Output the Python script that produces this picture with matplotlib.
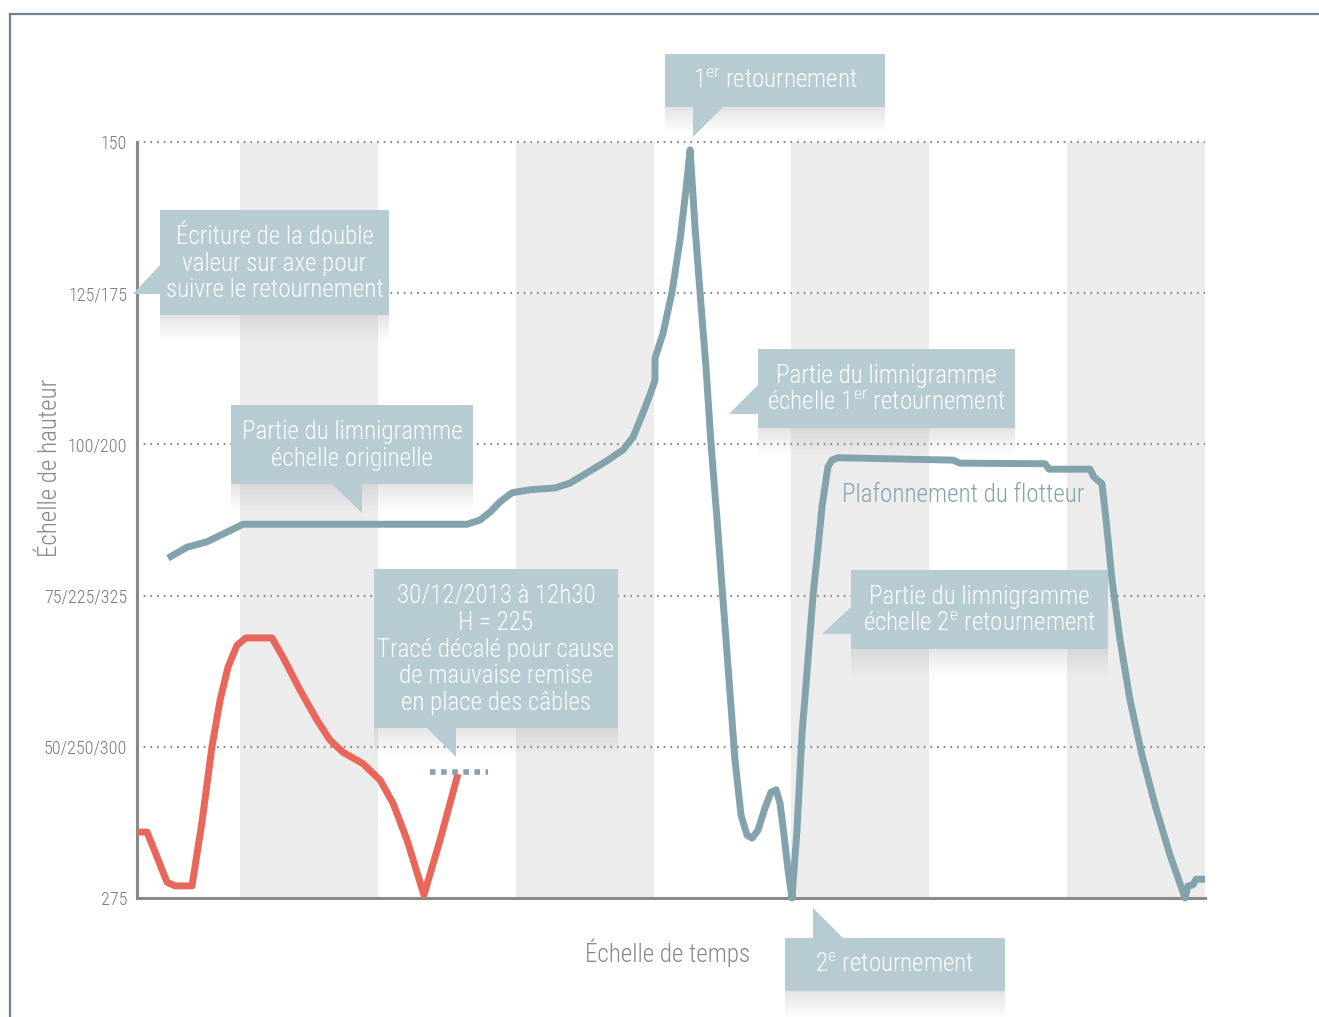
import numpy as np
import matplotlib
matplotlib.use("Agg")
import matplotlib.pyplot as plt
from matplotlib.patches import Rectangle, Polygon

plt.rcParams['font.family'] = ['Roboto Condensed', 'Liberation Sans Narrow', 'DejaVu Sans']
plt.rcParams['font.weight'] = 'light'
plt.rcParams['mathtext.fontset'] = 'custom'
plt.rcParams['mathtext.rm'] = 'Roboto Condensed:light'

y_ticks = [150, 125, 100, 75, 50, 25]
y_labels = ["150", "125/175", "100/200", "75/225/325", "50/250/300", "275"]

band_starts = [0.75, 2.75, 4.75, 6.75]
band_width = 1.0

blue_t = [0.225, 0.363, 0.508, 0.770, 2.396, 2.490, 2.563, 2.635, 2.722, 2.853, 3.034,
          3.143, 3.289, 3.419, 3.528, 3.601, 3.673, 3.724, 3.760, 3.761, 3.819, 3.884,
          3.942, 3.985, 4.015, 4.051, 4.087, 4.131, 4.167, 4.211, 4.254, 4.298, 4.341,
          4.385, 4.428, 4.465, 4.508, 4.559, 4.603, 4.639, 4.668, 4.697, 4.726, 4.755,
          4.791, 4.828, 4.871, 4.908, 4.944, 4.973, 5.016, 5.045, 5.089, 5.924, 5.975,
          6.592, 6.621, 6.918, 6.947, 7.005, 7.035, 7.078, 7.136, 7.209, 7.296, 7.390,
          7.499, 7.608, 7.630, 7.666, 7.688, 7.753]
blue_h = [81.2, 83.0, 83.9, 86.8, 86.8, 87.5, 88.8, 90.5, 92.0, 92.5, 92.8,
          93.6, 95.6, 97.4, 99.1, 101.2, 105.2, 108.2, 110.6, 114.3, 118.4, 125.2,
          133.8, 142.1, 148.7, 135.9, 125.2, 112.6, 100.1, 87.5, 74.3, 61.0, 47.8,
          38.7, 35.4, 34.9, 36.2, 39.9, 42.5, 42.9, 40.7, 35.4, 29.6, 25.0,
          36.2, 52.3, 64.4, 75.1, 82.9, 89.7, 96.3, 97.4, 97.8, 97.4, 96.9,
          96.8, 95.9, 95.9, 94.6, 93.5, 87.5, 77.6, 67.7, 57.7, 48.6, 40.4,
          32.1, 25.0, 27.0, 27.2, 28.1, 28.1]

red_t = [0.007, 0.073, 0.145, 0.218, 0.276, 0.399, 0.472, 0.544, 0.603, 0.661, 0.726,
         0.791, 0.980, 1.060, 1.183, 1.307, 1.401, 1.495, 1.641, 1.764, 1.858, 1.960,
         2.083, 2.200, 2.330]
red_h = [35.9, 35.9, 31.8, 27.6, 27.0, 27.0, 37.6, 50.0, 57.7, 63.2, 66.8,
         68.0, 68.0, 64.8, 59.4, 54.4, 51.1, 49.1, 47.2, 44.5, 40.7, 34.6,
         25.5, 34.6, 45.5]

h225_t = [2.127, 2.548]
h225_h = [45.8, 45.8]

BLUE = "#82a3ac"
RED = "#e8675a"
BOX = "#b7cbd2"
GREY = "#8a8a8a"

fig = plt.figure(figsize=(13.19, 10.17), dpi=100)
ax = fig.add_axes([137/1319, 1 - 898/1017, (1205-137)/1319, (898-142)/1017])
ax.set_xlim(0, 7.753)
ax.set_ylim(25, 150)

for b in band_starts:
    ax.axvspan(b, b + band_width, color="#ececec", lw=0, zorder=0)
for yt in y_ticks[:-1]:
    ax.axhline(yt, color="#8f8f8f", lw=1.6, ls=(0, (0.8, 2.2)), zorder=1, clip_on=False)

ax.plot(blue_t, blue_h, color=BLUE, lw=5, solid_joinstyle="round", solid_capstyle="butt", zorder=3, clip_on=False)
ax.plot(red_t, red_h, color=RED, lw=5, solid_joinstyle="round", solid_capstyle="butt", zorder=3, clip_on=False)
ax.plot(h225_t, h225_h, color=BLUE, lw=4, ls=(0, (1, 1)), zorder=3)

ax.set_yticks(y_ticks)
ax.set_yticklabels(y_labels, fontsize=13, color="#777777")
ax.set_xticks([])
ax.tick_params(axis="y", length=0, pad=7)
for s in ["top", "right"]:
    ax.spines[s].set_visible(False)
for s in ["left", "bottom"]:
    ax.spines[s].set_color(GREY)
    ax.spines[s].set_linewidth(2.2)
ax.set_facecolor("none")

# couche de dessin en pixels pour les bulles
ov = fig.add_axes([0, 0, 1, 1], zorder=5)
ov.set_xlim(0, 1319)
ov.set_ylim(1017, 0)
ov.axis("off")
ov.plot([10, 1319], [14, 14], color="#6d8590", lw=1.6)
ov.plot([10, 10], [14, 1017], color="#6d8590", lw=1.6)


def callout(x0, y0, x1, y1, text, tri):
    sh = np.zeros((40, 2, 4))
    sh[:, :, :3] = 0.7
    sh[:, :, 3] = np.linspace(0.35, 0.0, 40)[:, None]
    ov.imshow(sh, extent=(x0, x1, y1 + 28, y1), aspect="auto", zorder=1, interpolation="bilinear")
    ov.add_patch(Rectangle((x0, y0), x1 - x0, y1 - y0, color=BOX, lw=0, zorder=2))
    ov.add_patch(Polygon(tri, closed=True, color=BOX, lw=0, zorder=2))
    ov.text((x0 + x1) / 2, (y0 + y1) / 2 + 1, text, ha="center", va="center", multialignment="center",
            color="white", fontsize=18, linespacing=1.15, zorder=3)


callout(160, 210, 389, 315, "Écriture de la double\nvaleur sur axe pour\nsuivre le retournement",
        [(160, 265), (133, 294), (160, 294)])
callout(231, 405, 473, 484, "Partie du limnigramme\néchelle originelle",
        [(332, 484), (362, 513), (362, 484)])
callout(665, 54, 885, 107, "1$^{\\mathrm{er}}$ retournement",
        [(693, 107), (693, 137), (723, 107)])
callout(758, 349, 1015, 428, "Partie du limnigramme\néchelle 1$^{\\mathrm{er}}$ retournement",
        [(758, 385), (729, 414), (758, 414)])
callout(851, 570, 1108, 649, "Partie du limnigramme\néchelle 2$^{\\mathrm{e}}$ retournement",
        [(851, 607), (822, 634), (851, 634)])
callout(785, 938, 1005, 991, "2$^{\\mathrm{e}}$ retournement",
        [(813, 938), (813, 908), (843, 938)])
callout(374, 569, 618, 728, "30/12/2013 à 12h30\nH = 225\nTracé décalé pour cause\nde mauvaise remise\nen place des câbles",
        [(427, 728), (456, 757), (456, 728)])
ov.set_xlim(0, 1319)
ov.set_ylim(1017, 0)

ov.text(963, 495, "Plafonnement du flotteur", ha="center", va="center", color=BLUE, fontsize=18)
ov.text(668, 953, "Échelle de temps", ha="center", va="center", color="#888888", fontsize=18)
ov.text(50, 468, "Échelle de hauteur", ha="center", va="center", rotation=90, color="#888888", fontsize=18)

fig.savefig("out.png", dpi=100, facecolor="white")
